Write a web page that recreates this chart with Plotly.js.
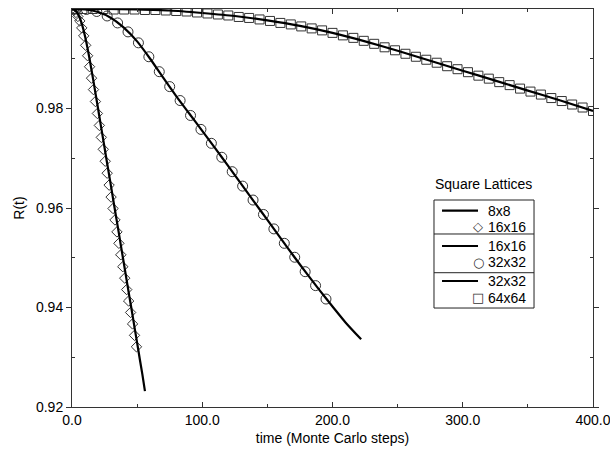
<!DOCTYPE html>
<html>
<head>
<meta charset="utf-8">
<script src="https://cdn.plot.ly/plotly-3.0.1.min.js"></script>
<style>html,body{margin:0;padding:0;background:#fff;}#chart{width:610px;height:454px;}</style>
</head>
<body>
<div id="chart"></div>
<script>
// 8x8 fit line
var t8 = [0, 2, 4, 6, 8, 10, 12, 14, 16, 18, 20, 22, 24, 26, 28, 30, 32, 34, 36, 38, 40, 42, 44, 46, 48, 50, 52, 54, 56];
var r8 = [1.0000, 0.9998, 0.9992, 0.9982, 0.9966, 0.9945, 0.9920, 0.9892, 0.9862, 0.9831, 0.9800, 0.9768, 0.9737, 0.9705, 0.9674, 0.9643, 0.9611, 0.9580, 0.9549, 0.9517, 0.9486, 0.9454, 0.9423, 0.9392, 0.9360, 0.9329, 0.9297, 0.9266, 0.9232];
// 16x16 data (diamonds)
var t16d = [0, 1.5, 3, 4.5, 6, 7.5, 9, 10.5, 12, 13.5, 15, 16.5, 18, 19.5, 21, 22.5, 24, 25.5, 27, 28.5, 30, 31.5, 33, 34.5, 36, 37.5, 39, 40.5, 42, 43.5, 45, 46.5, 48, 49.5];
var r16d = [1.0000, 0.9998, 0.9993, 0.9985, 0.9976, 0.9962, 0.9946, 0.9927, 0.9906, 0.9884, 0.9861, 0.9838, 0.9814, 0.9790, 0.9766, 0.9742, 0.9718, 0.9694, 0.9670, 0.9646, 0.9622, 0.9599, 0.9576, 0.9552, 0.9529, 0.9506, 0.9482, 0.9459, 0.9436, 0.9413, 0.9390, 0.9367, 0.9344, 0.9321];
// 16x16 fit line
var t16 = [0, 10, 20, 30, 40, 50, 60, 70, 80, 90, 100, 110, 120, 130, 140, 150, 160, 170, 180, 190, 200, 210, 222];
var r16 = [1.0000, 0.9999, 0.9994, 0.9982, 0.9962, 0.9935, 0.9900, 0.9862, 0.9825, 0.9790, 0.9755, 0.9720, 0.9684, 0.9648, 0.9612, 0.9576, 0.9540, 0.9504, 0.9469, 0.9435, 0.9402, 0.9370, 0.9336];
// 32x32 data (circles)
var t32c = [3, 11, 19, 27, 35, 43, 51, 59, 67, 75, 83, 91, 99, 107, 115, 123, 131, 139, 147, 155, 163, 171, 179, 187, 195];
var r32c = [1.0000, 0.9999, 0.9995, 0.9986, 0.9972, 0.9954, 0.9932, 0.9904, 0.9874, 0.9844, 0.9816, 0.9786, 0.9758, 0.9730, 0.9702, 0.9673, 0.9644, 0.9616, 0.9587, 0.9558, 0.9529, 0.9501, 0.9472, 0.9444, 0.9417];
// 32x32 fit line
var t32 = [0, 25, 50, 75, 100, 125, 150, 175, 200, 225, 250, 275, 300, 325, 350, 375, 400];
var r32 = [1.0000, 1.0000, 0.9999, 0.9997, 0.9992, 0.9986, 0.9977, 0.9966, 0.9952, 0.9935, 0.9916, 0.9896, 0.9876, 0.9856, 0.9836, 0.9816, 0.9795];
// 64x64 data (squares)
var t64s = [0, 8, 16, 24, 32, 40, 48, 56, 64, 72, 80, 88, 96, 104, 112, 120, 128, 136, 144, 152, 160, 168, 176, 184, 192, 200, 208, 216, 224, 232, 240, 248, 256, 264, 272, 280, 288, 296, 304, 312, 320, 328, 336, 344, 352, 360, 368, 376, 384, 392, 400];
var r64s = [1.0000, 1.0000, 1.0000, 1.0000, 0.9999, 0.9999, 0.9999, 0.9998, 0.9998, 0.9997, 0.9996, 0.9995, 0.9993, 0.9991, 0.9989, 0.9987, 0.9984, 0.9982, 0.9979, 0.9976, 0.9972, 0.9969, 0.9965, 0.9961, 0.9957, 0.9952, 0.9947, 0.9942, 0.9936, 0.9930, 0.9923, 0.9917, 0.9910, 0.9904, 0.9898, 0.9892, 0.9885, 0.9879, 0.9873, 0.9866, 0.9860, 0.9853, 0.9847, 0.9840, 0.9834, 0.9828, 0.9821, 0.9815, 0.9808, 0.9802, 0.9795];

var xTickVals = [0, 100, 200, 300, 400];
var xTickText = ['0.0', '100.0', '200.0', '300.0', '400.0'];
var yTickVals = [0.92, 0.94, 0.96, 0.98];
var yTickText = ['0.92', '0.94', '0.96', '0.98'];
var legendTitle = 'Square Lattices';
var legendNames = ['8x8', '16x16', '16x16', '32x32', '32x32', '64x64'];
var legendGlyphs = ['\u25C7', '\u25CB', '\u25A1'];

var mk = function (sym, size) {
  return {symbol: sym, size: size, color: '#333', line: {color: '#333', width: 1}};
};
var ln = {color: '#000', width: 2.2, shape: 'spline', smoothing: 0.6};

var data = [
  {x: t64s, y: r64s, mode: 'markers', type: 'scatter', name: legendNames[5], marker: mk('square-open', 9), showlegend: false},
  {x: t32c, y: r32c, mode: 'markers', type: 'scatter', name: legendNames[3], marker: mk('circle-open', 10), showlegend: false},
  {x: t16d, y: r16d, mode: 'markers', type: 'scatter', name: legendNames[1], marker: mk('diamond-open', 8), showlegend: false},
  {x: t8, y: r8, mode: 'lines', type: 'scatter', name: legendNames[0], line: ln, showlegend: false},
  {x: t16, y: r16, mode: 'lines', type: 'scatter', name: legendNames[2], line: ln, showlegend: false},
  {x: t32, y: r32, mode: 'lines', type: 'scatter', name: legendNames[4], line: ln, showlegend: false}
];

// manual legend
var bx0 = 0.6948, bx1 = 0.8868, by0 = 0.2487, by1 = 0.5201;
var sep = [0.4347, 0.3374];
var lineRows = [0.4932, 0.4045, 0.3166];
var markRows = [0.4523, 0.3643, 0.2739];
var shapes = [
  {type: 'rect', xref: 'paper', yref: 'paper', x0: bx0, x1: bx1, y0: by0, y1: by1, line: {color: '#222', width: 1}},
  {type: 'line', xref: 'paper', yref: 'paper', x0: bx0, x1: bx1, y0: sep[0], y1: sep[0], line: {color: '#222', width: 1}},
  {type: 'line', xref: 'paper', yref: 'paper', x0: bx0, x1: bx1, y0: sep[1], y1: sep[1], line: {color: '#222', width: 1}}
];
var annotations = [
  {xref: 'paper', yref: 'paper', x: 0.7889, y: 0.5603, text: legendTitle, showarrow: false, xanchor: 'center', yanchor: 'middle', font: {size: 14}}
];
for (var i = 0; i < 3; i++) {
  shapes.push({type: 'line', xref: 'paper', yref: 'paper', x0: 0.7102, x1: 0.7793, y0: lineRows[i], y1: lineRows[i], line: {color: '#000', width: 2.2}});
  annotations.push({xref: 'paper', yref: 'paper', x: 0.7946, y: lineRows[i], text: legendNames[2 * i], showarrow: false, xanchor: 'left', yanchor: 'middle', font: {size: 14}});
  annotations.push({xref: 'paper', yref: 'paper', x: 0.7946, y: markRows[i], text: legendNames[2 * i + 1], showarrow: false, xanchor: 'left', yanchor: 'middle', font: {size: 14}});
  annotations.push({xref: 'paper', yref: 'paper', x: 0.7793, y: markRows[i], text: legendGlyphs[i], showarrow: false, xanchor: 'center', yanchor: 'middle', font: {size: 13, family: 'DejaVu Sans', color: '#333'}});
}

var layout = {
  width: 610, height: 454,
  margin: {l: 72, r: 17, t: 9, b: 47},
  paper_bgcolor: '#fff', plot_bgcolor: '#fff',
  font: {family: 'Liberation Sans, Arial, sans-serif', size: 14, color: '#000'},
  showlegend: false,
  xaxis: {
    range: [0, 400], tickvals: xTickVals, ticktext: xTickText, ticklabeloverflow: 'allow',
    ticks: 'inside', ticklen: 5, tickcolor: '#333', showgrid: false, zeroline: false,
    showline: true, linecolor: '#333', linewidth: 1, mirror: 'ticks',
    minor: {dtick: 50, ticks: 'inside', ticklen: 3, tickcolor: '#333'},
    title: {text: 'time (Monte Carlo steps)', font: {size: 14}, standoff: 6}
  },
  yaxis: {
    range: [0.92, 1.0], tickvals: yTickVals, ticktext: yTickText, ticklabeloverflow: 'allow',
    ticks: 'outside', ticklen: 5, tickcolor: '#333', showgrid: false, zeroline: false,
    showline: true, linecolor: '#333', linewidth: 1, mirror: 'ticks',
    minor: {tickvals: [0.93, 0.95, 0.97, 0.99], ticks: 'inside', ticklen: 3, tickcolor: '#333'},
    title: {text: 'R(t)', font: {size: 14}, standoff: 8}
  },
  shapes: shapes,
  annotations: annotations
};

Plotly.newPlot('chart', data, layout, {displayModeBar: false, staticPlot: true});
</script>
</body>
</html>
